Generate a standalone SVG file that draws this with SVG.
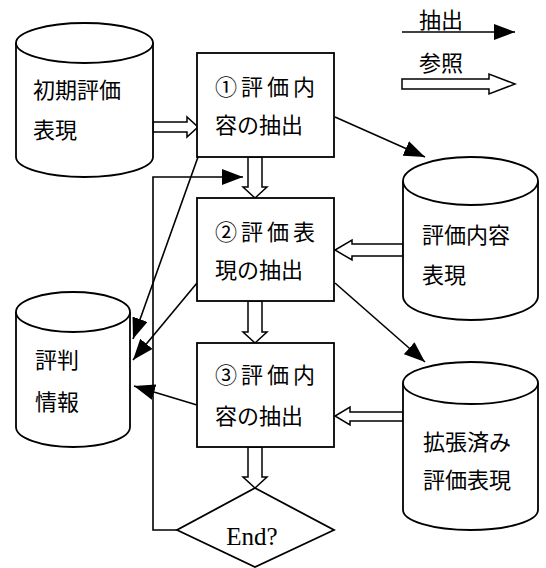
<svg xmlns="http://www.w3.org/2000/svg" width="546" height="568" viewBox="0 0 546 568">
<defs>
<marker id="ah" markerUnits="userSpaceOnUse" markerWidth="22" markerHeight="16" viewBox="0 0 22 16" refX="21" refY="8" orient="auto">
<path d="M0,0 L21,8 L0,16 z" fill="#000"/>
</marker>
</defs>
<style>
.sh{fill:#fff;stroke:#000;stroke-width:1.8}
.ln{fill:none;stroke:#000;stroke-width:1.6}
.ha{fill:#fff;stroke:#000;stroke-width:1.5;stroke-linejoin:miter}
.jp{font-family:"Noto Sans CJK JP","Noto Sans CJK SC",sans-serif;font-size:22px;fill:#000}
.lg{font-family:"Noto Sans CJK JP","Noto Sans CJK SC",sans-serif;font-size:22px;fill:#000}
.en{font-family:"Liberation Serif",serif;font-size:25px;fill:#000}
</style>
<rect width="546" height="568" fill="#fff"/>

<g id="legend">
<text class="lg" x="419" y="28">抽出</text>
<line class="ln" x1="402" y1="32" x2="515" y2="32" marker-end="url(#ah)"/>
<text class="lg" x="419" y="71">参照</text>
<path class="ha" d="M402,79 H489 V74 L515,84 L489,94 V89 H402 Z"/>
</g>

<g id="connectors">
<path class="ln" d="M177,530 H153 V177 H243" marker-end="url(#ah)"/>
<path class="ha" d="M153,122 H187 V117 L198,127 L187,137 V132 H153 Z"/>
<path class="ha" d="M248,157 V187 H243 L255,198 L267,187 H262 V157 Z"/>
<path class="ha" d="M248,301 V332 H243 L255,343 L267,332 H262 V301 Z"/>
<path class="ha" d="M248,447 V477 H243 L255,488 L267,477 H262 V447 Z"/>
<path class="ha" d="M403,244 H352 V240 L335,250 L352,260 V256 H403 Z"/>
<path class="ha" d="M403,412 H350 V407 L335,416 L350,425 V421 H403 Z"/>
<line class="ln" x1="335" y1="117" x2="425" y2="157" marker-end="url(#ah)"/>
<line class="ln" x1="335" y1="283" x2="425" y2="362" marker-end="url(#ah)"/>
<line class="ln" x1="198" y1="157" x2="133" y2="339" marker-end="url(#ah)"/>
<line class="ln" x1="197" y1="283" x2="133" y2="360" marker-end="url(#ah)"/>
<line class="ln" x1="197" y1="405" x2="134" y2="386" marker-end="url(#ah)"/>
</g>

<g id="cyl-initial">
<path class="sh" d="M16,43 V157 A68.5,20 0 0 0 153,157 V43"/>
<ellipse class="sh" cx="84.5" cy="43" rx="68.5" ry="20"/>
<text class="jp" x="33" y="98">初期評価</text>
<text class="jp" x="33" y="138">表現</text>
</g>

<g id="cyl-content">
<path class="sh" d="M403,181 V296 A67.5,24 0 0 0 538,296 V181"/>
<ellipse class="sh" cx="470.5" cy="181" rx="67.5" ry="24"/>
<text class="jp" x="422" y="243">評価内容</text>
<text class="jp" x="422" y="283">表現</text>
</g>

<g id="cyl-extended">
<path class="sh" d="M403,383 V510 A67.5,20 0 0 0 538,510 V383"/>
<ellipse class="sh" cx="470.5" cy="383" rx="67.5" ry="21"/>
<text class="jp" x="423" y="450">拡張済み</text>
<text class="jp" x="423" y="488">評価表現</text>
</g>

<g id="cyl-reputation">
<path class="sh" d="M16,312 V427 A57,20 0 0 0 130,427 V312"/>
<ellipse class="sh" cx="73" cy="312" rx="57" ry="20"/>
<text class="jp" x="35" y="368">評判</text>
<text class="jp" x="35" y="410">情報</text>
</g>

<g id="box1">
<rect class="sh" x="197" y="53" width="137" height="104"/>
<text class="jp" x="215" y="95" letter-spacing="4">①評価内</text>
<text class="jp" x="215" y="133">容の抽出</text>
</g>

<g id="box2">
<rect class="sh" x="197" y="198" width="137" height="103"/>
<text class="jp" x="215" y="240" letter-spacing="4">②評価表</text>
<text class="jp" x="215" y="278">現の抽出</text>
</g>

<g id="box3">
<rect class="sh" x="197" y="343" width="137" height="104"/>
<text class="jp" x="215" y="383" letter-spacing="4">③評価内</text>
<text class="jp" x="215" y="424">容の抽出</text>
</g>

<g id="end">
<path class="sh" d="M255,488 L334,530 L255,567 L177,530 Z"/>
<text class="en" x="252" y="545" text-anchor="middle">End?</text>
</g>
</svg>
